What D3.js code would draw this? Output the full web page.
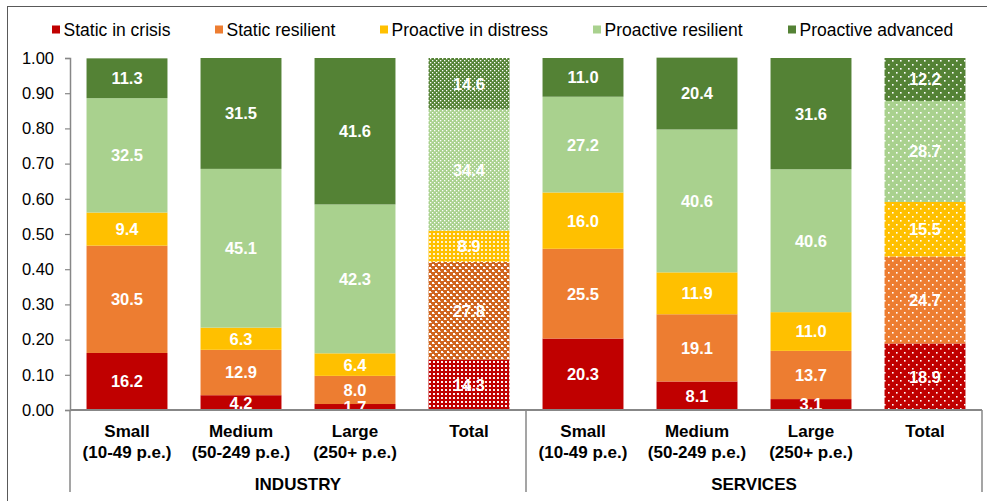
<!DOCTYPE html>
<html>
<head>
<meta charset="utf-8">
<script src="https://cdn.jsdelivr.net/npm/d3@7/dist/d3.min.js"></script>
<style>
  html, body { margin: 0; padding: 0; background: #fff; }
  svg { display: block; font-family: "Liberation Sans", Arial, sans-serif; }
</style>
</head>
<body>
<svg id="chart" width="987" height="501"></svg>
<script>
// Categories: four firm sizes within each of two sectors
const sectors = ["INDUSTRY", "SERVICES"];
const sizeLabels = [["Small", "(10-49 p.e.)"], ["Medium", "(50-249 p.e.)"], ["Large", "(250+ p.e.)"], ["Total"]];
const categories = ["IND-Small", "IND-Medium", "IND-Large", "IND-Total",
                    "SER-Small", "SER-Medium", "SER-Large", "SER-Total"];

// Series (share of firms, %)
const seriesNames = ["Static in crisis", "Static resilient", "Proactive in distress", "Proactive resilient", "Proactive advanced"];
const staticInCrisis      = [16.2, 4.2, 1.7, 14.3, 20.3, 8.1, 3.1, 18.9];
const staticResilient     = [30.5, 12.9, 8.0, 27.8, 25.5, 19.1, 13.7, 24.7];
const proactiveInDistress = [9.4, 6.3, 6.4, 8.9, 16.0, 11.9, 11.0, 15.5];
const proactiveResilient  = [32.5, 45.1, 42.3, 34.4, 27.2, 40.6, 40.6, 28.7];
const proactiveAdvanced   = [11.3, 31.5, 41.6, 14.6, 11.0, 20.4, 31.6, 12.2];
const seriesValues = [staticInCrisis, staticResilient, proactiveInDistress, proactiveResilient, proactiveAdvanced];
const seriesColors = ["#C00000", "#ED7D31", "#FFC000", "#A9D18E", "#548235"];

const yTicks = [0, 0.1, 0.2, 0.3, 0.4, 0.5, 0.6, 0.7, 0.8, 0.9, 1.0];

const svg = d3.select("#chart");
const axisColor = "#878787";

// Outer frame
svg.append("rect")
  .attr("x", 7.5).attr("y", 6.5)
  .attr("width", 1000).attr("height", 520)
  .attr("fill", "none").attr("stroke", "#595959").attr("stroke-width", 1);

const plot = { left: 70, right: 982, top: 58, bottom: 410 };

const x = d3.scaleBand()
  .domain(categories)
  .range([plot.left, plot.right])
  .paddingInner(0.29)
  .paddingOuter(0.145);

const y = d3.scaleLinear()
  .domain([0, 1])
  .range([plot.bottom, plot.top]);

// Stack the series (converted to fractions)
const rows = categories.map((c, i) => {
  const r = { category: c };
  seriesNames.forEach((s, k) => { r[s] = seriesValues[k][i] / 100; });
  return r;
});
const stacked = d3.stack().keys(seriesNames)(rows);

// Fill patterns for the "Total" columns
const defs = svg.append("defs");

function dotPattern(id, color, size, dot) {
  const p = defs.append("pattern").attr("id", id)
    .attr("patternUnits", "userSpaceOnUse").attr("width", size).attr("height", size);
  p.append("rect").attr("width", size).attr("height", size).attr("fill", color);
  const h = size / 2;
  [[0, 0], [h, h]].forEach(([px, py]) => {
    p.append("rect").attr("x", px).attr("y", py).attr("width", dot).attr("height", dot).attr("fill", "#fff");
  });
  return `url(#${id})`;
}
function gridPattern(id, color, size, sq, opacity) {
  const p = defs.append("pattern").attr("id", id)
    .attr("patternUnits", "userSpaceOnUse").attr("width", size).attr("height", size);
  p.append("rect").attr("width", size).attr("height", size).attr("fill", color);
  p.append("rect").attr("x", 1).attr("y", 1).attr("width", sq).attr("height", sq)
    .attr("fill", "#fff").attr("opacity", opacity);
  return `url(#${id})`;
}
function checkPattern(id, color) {
  const p = defs.append("pattern").attr("id", id)
    .attr("patternUnits", "userSpaceOnUse").attr("width", 6).attr("height", 6);
  p.append("rect").attr("width", 6).attr("height", 6).attr("fill", color);
  p.append("rect").attr("x", 0).attr("y", 0).attr("width", 2).attr("height", 2).attr("fill", "#fff");
  p.append("rect").attr("x", 3).attr("y", 3).attr("width", 2).attr("height", 2).attr("fill", "#fff");
  p.append("rect").attr("x", 2).attr("y", 1).attr("width", 1).attr("height", 1).attr("fill", "#fff").attr("opacity", 0.6);
  p.append("rect").attr("x", 5).attr("y", 4).attr("width", 1).attr("height", 1).attr("fill", "#fff").attr("opacity", 0.6);
  return `url(#${id})`;
}

const industryTotalFills = [
  gridPattern("ind-crisis", "#C00000", 4, 2, 0.95),
  checkPattern("ind-resilient", "#D0651E"),
  gridPattern("ind-distress", "#FFC000", 4, 2, 0.8),
  dotPattern("ind-proresilient", "#A9D18E", 4, 1.3),
  dotPattern("ind-advanced", "#548235", 4, 1.3)
];
const servicesTotalFills = seriesColors.map((c, k) => dotPattern("ser-" + k, c, 8, 1.6));

function fillFor(k, category) {
  if (category === "IND-Total") return industryTotalFills[k];
  if (category === "SER-Total") return servicesTotalFills[k];
  return seriesColors[k];
}

// Bars
const barLayer = svg.append("g");
stacked.forEach((layer, k) => {
  barLayer.selectAll(null)
    .data(layer)
    .join("rect")
    .attr("x", d => x(d.data.category))
    .attr("width", x.bandwidth())
    .attr("y", d => y(d[1]))
    .attr("height", d => y(d[0]) - y(d[1]))
    .attr("fill", d => fillFor(k, d.data.category));
});

// Value labels, clipped to the plotting area
defs.append("clipPath").attr("id", "plot-clip")
  .append("rect").attr("x", plot.left).attr("y", 0)
  .attr("width", plot.right - plot.left).attr("height", plot.bottom);

const labelLayer = svg.append("g").attr("clip-path", "url(#plot-clip)");
stacked.forEach((layer, k) => {
  labelLayer.selectAll(null)
    .data(layer)
    .join("text")
    .attr("x", d => x(d.data.category) + x.bandwidth() / 2)
    .attr("y", d => (y(d[0]) + y(d[1])) / 2)
    .attr("dy", "0.36em")
    .attr("text-anchor", "middle")
    .attr("fill", "#fff")
    .attr("font-weight", "bold")
    .attr("font-size", "16.5px")
    .text(d => d3.format(".1f")(seriesValues[k][categories.indexOf(d.data.category)]));
});

// Y axis
const yAxis = svg.append("g")
  .attr("transform", `translate(${plot.left},0)`)
  .call(d3.axisLeft(y).tickValues(yTicks).tickFormat(d3.format(".2f")).tickSize(5).tickPadding(11));
yAxis.select(".domain").attr("stroke", axisColor).attr("stroke-width", 1.5);
yAxis.selectAll(".tick line").attr("stroke", axisColor).attr("stroke-width", 1.2);
yAxis.selectAll(".tick text")
  .attr("font-size", "16.5px").attr("fill", "#000")
  .attr("font-family", "Liberation Sans, Arial, sans-serif");

// X axis baseline
svg.append("line")
  .attr("x1", plot.left).attr("x2", plot.right)
  .attr("y1", plot.bottom).attr("y2", plot.bottom)
  .attr("stroke", axisColor).attr("stroke-width", 2);

// Sector separators
const sectorEdges = [plot.left, (x("IND-Total") + x.bandwidth() + x("SER-Small")) / 2, plot.right];
svg.selectAll(null)
  .data(sectorEdges)
  .join("line")
  .attr("x1", d => d).attr("x2", d => d)
  .attr("y1", plot.bottom).attr("y2", 492)
  .attr("stroke", axisColor).attr("stroke-width", 1.5);

// Category labels
categories.forEach((c, i) => {
  const lines = sizeLabels[i % 4];
  const t = svg.append("text")
    .attr("x", x(c) + x.bandwidth() / 2)
    .attr("text-anchor", "middle")
    .attr("font-weight", "bold")
    .attr("font-size", "17px")
    .attr("fill", "#000");
  lines.forEach((ln, j) => {
    t.append("tspan").attr("x", x(c) + x.bandwidth() / 2).attr("y", 437 + j * 21).text(ln);
  });
});

// Sector labels
sectors.forEach((s, g) => {
  svg.append("text")
    .attr("x", (sectorEdges[g] + sectorEdges[g + 1]) / 2)
    .attr("y", 490)
    .attr("text-anchor", "middle")
    .attr("font-weight", "bold")
    .attr("font-size", "17px")
    .attr("fill", "#000")
    .text(s);
});

// Legend
const legendX = [52, 215, 380, 593, 788];
const legend = svg.append("g");
seriesNames.forEach((s, k) => {
  const g = legend.append("g").attr("transform", `translate(${legendX[k]},0)`);
  g.append("rect").attr("x", 0).attr("y", 25.5).attr("width", 8).attr("height", 8).attr("fill", seriesColors[k]);
  g.append("text").attr("x", 11.5).attr("y", 35.5)
    .attr("font-size", "17.5px").attr("fill", "#000").text(s);
});
</script>
</body>
</html>
